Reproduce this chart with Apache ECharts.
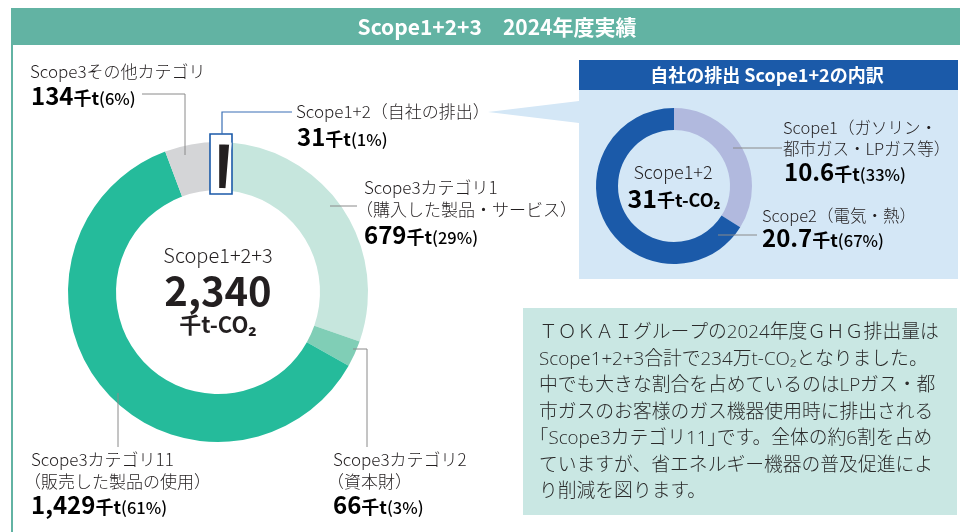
<!DOCTYPE html>
<html><head><meta charset="utf-8">
<script src="https://cdn.jsdelivr.net/npm/echarts@6/dist/echarts.min.js"></script>
<style>html,body{margin:0;padding:0;background:#fff}#c{width:960px;height:532px}</style>
</head><body><div id="c"></div><script>
// ---- data ----
const mainCats = ['Scope1+2', 'Scope3カテゴリ1', 'Scope3カテゴリ2', 'Scope3カテゴリ11', 'Scope3その他カテゴリ'];
const mainSubs = ['（自社の排出）', '（購入した製品・サービス）', '（資本財）', '（販売した製品の使用）', ''];
const mainValues = [31, 679, 66, 1429, 134];
const mainPct = [1, 29, 3, 61, 6];
const mainTotal = 2340;
const subCats = ['Scope1', 'Scope2'];
const subSubs = [['（ガソリン・', '都市ガス・LPガス等）'], ['（電気・熱）']];
const subValues = [10.6, 20.7];
const subPct = [33, 67];
const subTotal = 31;

const mainColors = ['#ffffff', '#c6e6dd', '#80ceb6', '#25bb9b', '#d4d5d7'];
const subColors = ['#b1b9de', '#1b5aa9'];
const FF = '"Noto Sans CJK JP","Noto Sans",sans-serif';
const FB = '"Open Sans","Noto Sans CJK JP",sans-serif';
const TXT = '#231f20';

const chart = echarts.init(document.getElementById('c'), null, {renderer: 'canvas'});

function fmt(v) { return v.toLocaleString('en-US'); }
const valRich = {
  n: {fontSize: 24, fontWeight: 'bold', fontFamily: FF, color: TXT, lineHeight: 28},
  u: {fontSize: 18, fontWeight: 'bold', fontFamily: FF, color: TXT, lineHeight: 28, padding: [5, 0, 0, 0]},
  p: {fontSize: 16.5, fontWeight: 500, fontFamily: FF, color: TXT, lineHeight: 28, padding: [5, 0, 0, 0]}
};
function valText(x, y, v, p) {
  return {type: 'text', x: x, y: y, z: 30,
    style: {text: '{n|' + fmt(v) + '}{u|千t}{p|(' + p + '%)}', rich: valRich, verticalAlign: 'middle', align: 'left'}};
}
function lbl(x, y, t, size) {
  return {type: 'text', x: x, y: y, z: 30,
    style: {text: t, fontSize: size || 17, fontFamily: FF, fontWeight: 300, fill: TXT, verticalAlign: 'middle', align: 'left'}};
}
function line(points, color, w) {
  return {type: 'polyline', z: 30, shape: {points: points}, style: {stroke: color || '#8a8a8a', lineWidth: w || 1, fill: null}};
}

const g = [];
// header bar
g.push({type: 'rect', z: 0, shape: {x: 11, y: 8, width: 949, height: 37}, style: {fill: '#62b3a3'}});
g.push({type: 'rect', z: 0, shape: {x: 11, y: 45, width: 2, height: 487}, style: {fill: '#62b3a3'}});
g.push({type: 'text', x: 497, y: 27, z: 30, style: {text: 'Scope1+2+3　2024年度実績', fontSize: 21, fontWeight: 'bold', fontFamily: FF, fill: '#ffffff', align: 'center', verticalAlign: 'middle'}});

// right box
g.push({type: 'rect', z: 0, shape: {x: 579, y: 90, width: 379, height: 189}, style: {fill: '#d4e7f6'}});
g.push({type: 'rect', z: 0, shape: {x: 579, y: 60, width: 379, height: 30}, style: {fill: '#1b5aa9'}});
g.push({type: 'polygon', z: 0, shape: {points: [[488, 112], [579, 101], [579, 123]]}, style: {fill: '#d4e7f6'}});
g.push({type: 'text', x: 767, y: 75, z: 30, style: {text: '自社の排出 Scope1+2の内訳', fontSize: 18, fontWeight: 'bold', fontFamily: FF, fill: '#ffffff', align: 'center', verticalAlign: 'middle'}});

// bottom text box
g.push({type: 'rect', z: 0, shape: {x: 523, y: 308, width: 434, height: 207}, style: {fill: '#c9e7e3'}});
const bodyLines = [
  'ＴＯＫＡＩグループの2024年度ＧＨＧ排出量は',
  'Scope1+2+3合計で234万t-CO₂となりました。',
  '中でも大きな割合を占めているのはLPガス・都',
  '市ガスのお客様のガス機器使用時に排出される',
  '｢Scope3カテゴリ11｣です。全体の約6割を占め',
  'ていますが、省エネルギー機器の普及促進によ',
  'り削減を図ります。'
];
bodyLines.forEach((t, i) => {
  g.push({type: 'text', x: 539, y: 333 + i * 26.5, z: 30, style: {text: t, fontSize: 18.8, fontWeight: 300, fontFamily: FB, fill: '#2b2b2b', verticalAlign: 'middle', align: 'left'}});
});

// main center text
g.push({type: 'text', x: 218, y: 255, z: 30, style: {text: 'Scope1+2+3', fontSize: 20, fontWeight: 300, fontFamily: FF, fill: TXT, align: 'center', verticalAlign: 'middle'}});
g.push({type: 'text', x: 218, y: 291, z: 30, style: {text: fmt(mainTotal), fontSize: 40, fontWeight: 'bold', fontFamily: FF, fill: TXT, align: 'center', verticalAlign: 'middle'}});
g.push({type: 'text', x: 218, y: 325, z: 30, style: {text: '千t-CO₂', fontSize: 22, fontWeight: 'bold', fontFamily: FF, fill: TXT, align: 'center', verticalAlign: 'middle'}});

// sub center text
g.push({type: 'text', x: 673, y: 172, z: 30, style: {text: 'Scope1+2', fontSize: 18, fontWeight: 300, fontFamily: FF, fill: TXT, align: 'center', verticalAlign: 'middle'}});
g.push({type: 'text', x: 674, y: 198, z: 30, style: {text: '{n|' + subTotal + '}{u|千t-CO₂}', align: 'center', verticalAlign: 'middle',
  rich: {n: {fontSize: 25, fontWeight: 'bold', fontFamily: FF, color: TXT, lineHeight: 30},
         u: {fontSize: 18, fontWeight: 'bold', fontFamily: FF, color: TXT, lineHeight: 30, padding: [5, 0, 0, 0]}}}});

// main labels
// Scope3 other (index 4)
g.push(lbl(30, 72, mainCats[4]));
g.push(valText(31, 96, mainValues[4], mainPct[4]));
g.push(line([[142, 94], [185, 94], [185, 155]]));
// Scope1+2 (index 0)
g.push({type: 'rect', z: 15, shape: {x: 210, y: 134, width: 22, height: 60}, style: {fill: '#ffffff', stroke: '#1b5aa9', lineWidth: 1.6}});
g.push(line([[222, 134], [222, 112], [292, 112]], '#3a6fb5', 1.2));
g.push(lbl(296, 112, mainCats[0] + mainSubs[0]));
g.push(valText(297, 137, mainValues[0], mainPct[0]));
// Cat1 (index 1)
g.push(line([[330, 206], [357, 206]]));
g.push(lbl(364, 188, mainCats[1]));
g.push(lbl(356, 210, mainSubs[1]));
g.push(valText(364, 235, mainValues[1], mainPct[1]));
// Cat2 (index 2)
g.push(line([[353, 349], [367, 349], [367, 447]]));
g.push(lbl(333, 460, mainCats[2]));
g.push(lbl(327, 482, mainSubs[2]));
g.push(valText(333, 505, mainValues[2], mainPct[2]));
// Cat11 (index 3)
g.push(line([[118, 393], [118, 447]]));
g.push(lbl(31, 460, mainCats[3]));
g.push(lbl(24, 482, mainSubs[3]));
g.push(valText(31, 505, mainValues[3], mainPct[3]));

// sub labels
g.push(line([[733, 148], [782, 148]]));
g.push(lbl(783, 128, subCats[0] + subSubs[0][0], 16.5));
g.push(lbl(783, 149, subSubs[0][1], 16.5));
g.push(valText(784, 172, subValues[0], subPct[0]));
g.push(line([[718, 235], [757, 235]]));
g.push(lbl(762, 216, subCats[1] + subSubs[1][0], 16.5));
g.push(valText(762, 238, subValues[1], subPct[1]));

const mainData = mainCats.map((c, i) => ({name: c, value: mainValues[i], itemStyle: {color: mainColors[i]}}));
const overlayData = mainCats.map((c, i) => ({name: c, value: mainValues[i], itemStyle: {color: i === 0 ? '#231f20' : 'rgba(0,0,0,0)', borderColor: i === 0 ? '#ffffff' : 'rgba(0,0,0,0)', borderWidth: i === 0 ? 2.4 : 0}}));
const subData = subCats.map((c, i) => ({name: c, value: subValues[i], itemStyle: {color: subColors[i]}}));

const pieBase = {type: 'pie', startAngle: 90, clockwise: true, label: {show: false}, labelLine: {show: false},
  emphasis: {disabled: true}, silent: true, animation: false};

chart.setOption({
  animation: false,
  graphic: {elements: g},
  series: [
    Object.assign({}, pieBase, {center: [218, 292], radius: [102, 150], z: 5, data: mainData}),
    Object.assign({}, pieBase, {center: [218, 292], radius: [103, 149], z: 20, data: overlayData}),
    Object.assign({}, pieBase, {center: [674, 186], radius: [56, 78], z: 5, data: subData})
  ]
});
</script></body></html>
